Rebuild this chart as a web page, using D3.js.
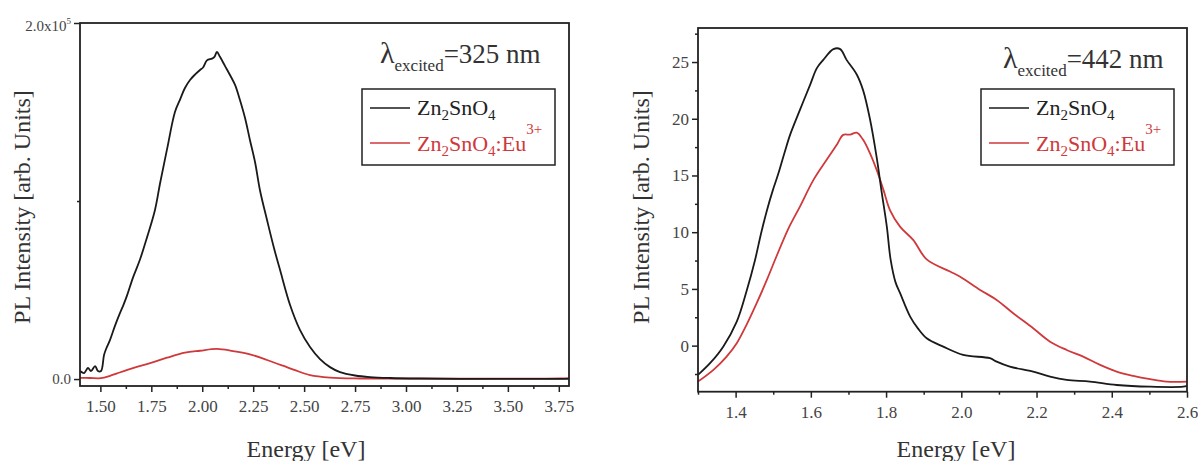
<!DOCTYPE html>
<html>
<head>
<meta charset="utf-8">
<script src="https://cdn.jsdelivr.net/npm/d3@7"></script>
<style>
  body { margin: 0; background: #fff; }
  svg text { font-family: "Liberation Serif", "Times New Roman", serif !important; }
</style>
</head>
<body>
<svg id="chart" width="1198" height="461"></svg>
<script>
// ---------- Data: PL spectra, excitation 325 nm ----------
// Energy [eV] and intensity [arb. units] for undoped Zn2SnO4
const energy325Pure = [1.400,1.420,1.439,1.454,1.474,1.488,1.503,1.518,1.528,1.547,1.572,1.596,1.611,1.631,1.660,1.694,1.730,1.768,1.793,1.827,1.866,1.891,1.915,1.940,1.964,1.989,2.004,2.023,2.048,2.060,2.072,2.087,2.112,2.136,2.161,2.185,2.210,2.234,2.259,2.283,2.318,2.352,2.382,2.431,2.480,2.529,2.578,2.627,2.676,2.750,2.823,2.921,3.069,3.265,3.500,3.800];
const intensity325Pure = [4500,3400,6200,4500,7300,4500,4500,13500,16900,21900,30000,37000,41000,47000,57000,67000,80000,95000,110000,129000,150000,157000,163500,168000,171000,173600,175000,179000,180000,181000,183700,181000,175800,170800,165200,156700,146600,134300,121900,106200,89300,73600,61200,41600,27500,18000,11200,6700,3900,2000,1100,600,300,150,100,100];
// Eu3+-doped Zn2SnO4
const energy325Eu = [1.400,1.449,1.503,1.547,1.582,1.660,1.744,1.827,1.915,1.989,2.072,2.151,2.234,2.318,2.396,2.455,2.529,2.627,2.774,3.069,3.461,3.756,3.800];
const intensity325Eu = [700,600,500,1800,3200,6200,9000,12000,14800,15900,16900,15700,13900,10700,7500,5000,2200,800,300,200,200,300,500];

// ---------- Data: PL spectra, excitation 442 nm ----------
const energy442Pure = [1.300,1.332,1.367,1.403,1.429,1.452,1.467,1.483,1.498,1.513,1.530,1.545,1.571,1.598,1.616,1.633,1.660,1.678,1.695,1.722,1.739,1.757,1.775,1.788,1.802,1.812,1.825,1.837,1.864,1.885,1.908,1.952,2.005,2.076,2.094,2.129,2.191,2.236,2.280,2.342,2.413,2.502,2.590,2.600];
const intensity442Pure = [-2.58,-1.55,-0.09,2.12,4.80,7.60,9.80,11.90,13.60,15.10,17.00,18.60,20.78,22.99,24.46,25.19,26.14,26.14,25.19,23.9,22.5,20.0,16.6,13.6,10.5,7.6,5.6,4.65,2.56,1.5,0.65,-0.09,-0.82,-1.11,-1.41,-1.85,-2.29,-2.73,-3.02,-3.17,-3.47,-3.62,-3.62,-3.55];
const energy442Eu = [1.300,1.341,1.376,1.403,1.429,1.456,1.483,1.509,1.540,1.571,1.607,1.642,1.669,1.686,1.704,1.722,1.739,1.757,1.775,1.793,1.810,1.837,1.872,1.908,1.970,1.997,2.050,2.094,2.138,2.191,2.236,2.280,2.324,2.369,2.413,2.457,2.502,2.546,2.600];
const intensity442Eu = [-3.17,-2.14,-0.97,0.21,1.83,3.74,5.79,7.90,10.30,12.26,14.61,16.38,17.70,18.58,18.60,18.78,18.14,16.97,15.49,13.73,11.97,10.49,9.32,7.60,6.53,6.08,4.91,4.03,2.86,1.53,0.35,-0.38,-0.97,-1.70,-2.29,-2.67,-2.96,-3.17,-3.17];

// ---------- Tick values ----------
const ticks325X = [1.50,1.75,2.00,2.25,2.50,2.75,3.00,3.25,3.50,3.75];
const minor325X = [1.625,1.875,2.125,2.375,2.625,2.875,3.125,3.375,3.625];
const ticks325Y = [0, 200000];
const minor325Y = [100000];
const ticks442X = [1.4,1.6,1.8,2.0,2.2,2.4,2.6];
const minor442X = [1.3,1.5,1.7,1.9,2.1,2.3,2.5];
const ticks442Y = [0,5,10,15,20,25];
const minor442Y = [-2.5,2.5,7.5,12.5,17.5,22.5,27.5];

const seriesNames = ["Zn2SnO4", "Zn2SnO4:Eu3+"];
const BLACK = "#1a1a1a", RED = "#d0393b", TEXT = "#333";
const SERIF = '"Liberation Serif", "Times New Roman", serif';

const svg = d3.select("#chart");
svg.append("rect").attr("width", 1198).attr("height", 461).attr("fill", "#fff");

function zip(xs, ys) { return xs.map((x, i) => [x, ys[i]]); }

function drawPanel(p) {
  const x = d3.scaleLinear().domain(p.xDomain).range(p.xRange);
  const y = d3.scaleLinear().domain(p.yDomain).range(p.yRange);
  const g = svg.append("g").style("font-family", SERIF);
  const bottom = p.yRange[0], top = p.yRange[1];

  // clip for curves
  const clipId = "clip" + p.id;
  g.append("clipPath").attr("id", clipId).append("rect")
    .attr("x", p.xRange[0]).attr("y", top)
    .attr("width", p.xRange[1] - p.xRange[0]).attr("height", bottom - top);

  const line = d3.line().x(d => x(d[0])).y(d => y(d[1])).curve(d3.curveCatmullRom.alpha(0.5));
  const curves = g.append("g").attr("clip-path", `url(#${clipId})`);
  curves.append("path").datum(zip(p.redX, p.redY))
    .attr("d", line).attr("fill", "none").attr("stroke", RED).attr("stroke-width", 1.8);
  curves.append("path").datum(zip(p.blackX, p.blackY))
    .attr("d", line).attr("fill", "none").attr("stroke", BLACK).attr("stroke-width", 1.8);

  // x axis
  g.append("g").attr("transform", `translate(0,${bottom})`)
    .call(d3.axisBottom(x).tickValues(p.xTicks).tickSize(6).tickPadding(8).tickFormat(p.xFormat));
  g.append("g").attr("transform", `translate(0,${bottom})`)
    .call(d3.axisBottom(x).tickValues(p.xMinor).tickSize(3).tickFormat(""));
  // y axis
  const yAx = g.append("g").attr("transform", `translate(${p.xRange[0]},0)`)
    .call(d3.axisLeft(y).tickValues(p.yTicks).tickSize(6).tickPadding(3).tickFormat(p.yFormat));
  g.append("g").attr("transform", `translate(${p.xRange[0]},0)`)
    .call(d3.axisLeft(y).tickValues(p.yMinor).tickSize(3).tickFormat(""));

  g.selectAll("g").attr("font-family", SERIF);
  g.selectAll(".domain").remove();
  g.selectAll(".tick line").attr("stroke", "#222").attr("stroke-width", 1.5);
  g.selectAll(".tick text").attr("fill", "#444").attr("font-size", 17)
    .style("font-family", SERIF);
  yAx.selectAll(".tick text").attr("font-size", p.yFontSize || 17);

  if (p.yExtra) p.yExtra(yAx);

  // frame
  g.append("rect").attr("x", p.xRange[0]).attr("y", top)
    .attr("width", p.xRange[1] - p.xRange[0]).attr("height", bottom - top)
    .attr("fill", "none").attr("stroke", "#222").attr("stroke-width", 1.8);

  // axis titles
  g.append("text").attr("x", p.xTitleX).attr("y", 457).attr("text-anchor", "middle")
    .attr("font-size", 24).attr("fill", TEXT).style("font-family", SERIF).text("Energy [eV]");
  g.append("text").attr("transform", `translate(${p.yTitleX},${p.yTitleY}) rotate(-90)`)
    .attr("text-anchor", "middle").attr("font-size", 24).attr("fill", TEXT)
    .style("font-family", SERIF).text("PL Intensity [arb. Units]");

  // excitation wavelength annotation
  const t = g.append("text").attr("x", p.annX).attr("y", p.annY).attr("fill", TEXT)
    .attr("font-size", 27).style("font-family", SERIF);
  t.append("tspan").attr("font-size", 30).text("λ");
  t.append("tspan").attr("font-size", 17).attr("dy", 8).text("excited");
  t.append("tspan").attr("dy", -8).text("=" + p.wavelength + " nm");

  // legend
  const lg = g.append("g").attr("transform", `translate(${p.legX},89)`);
  lg.append("rect").attr("width", 193).attr("height", 76)
    .attr("fill", "#fff").attr("stroke", "#222").attr("stroke-width", 1.5);
  const colors = [BLACK, RED];
  seriesNames.forEach((name, i) => {
    const cy = 19 + i * 35;
    lg.append("line").attr("x1", 8).attr("x2", 48).attr("y1", cy).attr("y2", cy)
      .attr("stroke", colors[i]).attr("stroke-width", 1.6);
    const tx = lg.append("text").attr("x", 55).attr("y", cy + 7 + i * 0.5)
      .attr("font-size", 22).attr("fill", i === 0 ? "#222" : RED).style("font-family", SERIF);
    tx.append("tspan").text("Zn");
    tx.append("tspan").attr("font-size", 15).attr("dy", 5).text("2");
    tx.append("tspan").attr("dy", -5).text("SnO");
    tx.append("tspan").attr("font-size", 15).attr("dy", 5).text("4");
    if (i === 1) {
      tx.append("tspan").attr("dy", -5).text(":Eu");
      tx.append("tspan").attr("font-size", 15).attr("dy", -17).text("3+");
    }
  });
}

drawPanel({
  id: "a",
  xDomain: [1.4, 3.8], xRange: [80, 569],
  yDomain: [-3900, 200000], yRange: [386, 23],
  xTicks: ticks325X, xMinor: minor325X, yTicks: ticks325Y, yMinor: minor325Y,
  xFormat: d3.format(".2f"),
  yFormat: d => d === 0 ? "0.0" : "2.0x10",
  yFontSize: 15,
  yExtra: ax => {
    const top = ax.selectAll(".tick text").filter(d => d === 200000);
    top.append("tspan").attr("font-size", 9).attr("dy", -7).text("5");
    top.attr("dy", "0.5em");
  },
  blackX: energy325Pure, blackY: intensity325Pure,
  redX: energy325Eu, redY: intensity325Eu,
  xTitleX: 306, yTitleX: 30, yTitleY: 207,
  annX: 380, annY: 63, wavelength: 325, legX: 362
});

drawPanel({
  id: "b",
  xDomain: [1.3, 2.6], xRange: [698, 1187],
  yDomain: [-4.06, 28], yRange: [391.7, 28],
  xTicks: ticks442X, xMinor: minor442X, yTicks: ticks442Y, yMinor: minor442Y,
  xFormat: d3.format(".1f"),
  yFormat: d3.format("d"),
  blackX: energy442Pure, blackY: intensity442Pure,
  redX: energy442Eu, redY: intensity442Eu,
  xTitleX: 956, yTitleX: 649, yTitleY: 207,
  annX: 1003, annY: 68, wavelength: 442, legX: 981
});
</script>
</body>
</html>
